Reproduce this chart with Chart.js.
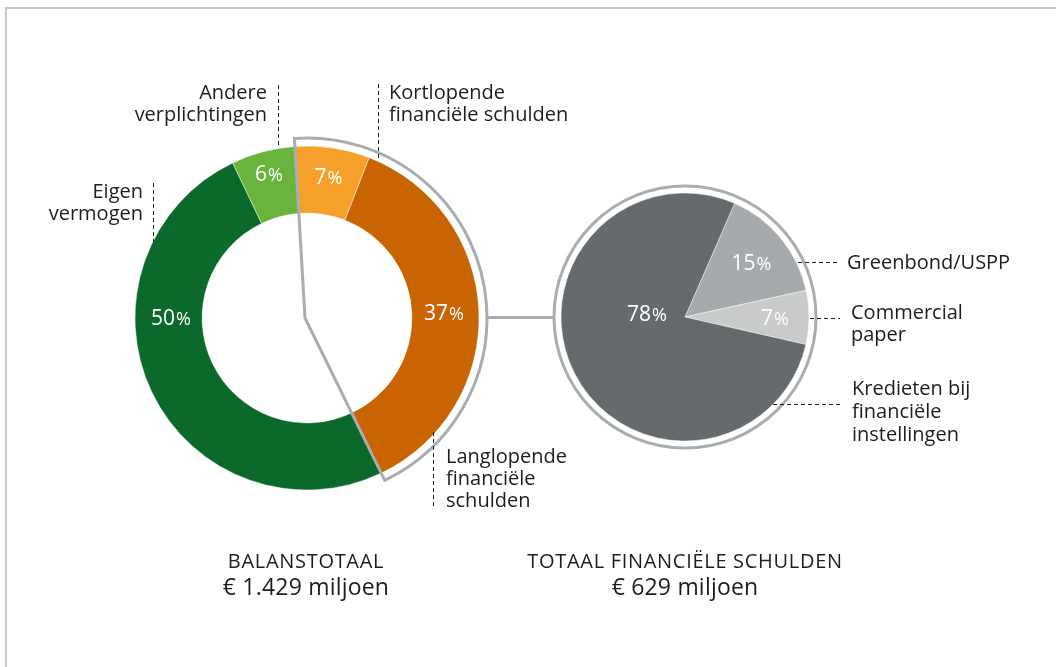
<!DOCTYPE html>
<html><head><meta charset="utf-8">
<script src="https://cdn.jsdelivr.net/npm/chart.js@4/dist/chart.umd.min.js"></script>
<style>
html,body{margin:0;padding:0;background:#fff;}
body{width:1056px;height:667px;position:relative;overflow:hidden;font-family:"Open Sans",sans-serif;color:#1d1d1b;}
#frame{position:absolute;left:5px;top:7px;width:1200px;height:800px;border-top:2px solid #c9c9c9;border-left:2px solid #c9c9c9;}
.box{position:absolute;}
.note{position:absolute;font-size:20px;line-height:22px;white-space:nowrap;}
.title{position:absolute;text-align:center;white-space:nowrap;width:500px;}
.t1{font-size:20px;line-height:24px;letter-spacing:0.7px;}
.t2{font-size:23px;line-height:26px;letter-spacing:0.2px;}
svg{position:absolute;left:0;top:0;}
</style></head>
<body>
<div id="frame"></div>
<div class="box" style="left:107px;top:118px;width:400px;height:400px"><canvas id="donut"></canvas></div>
<div class="box" style="left:535px;top:167px;width:300px;height:300px"><canvas id="pie"></canvas></div>
<svg width="1056" height="667">
  <g stroke="#1d1d1b" stroke-width="1" stroke-dasharray="4 3" fill="none">
    <line x1="278.5" y1="85" x2="278.5" y2="147"/>
    <line x1="378.5" y1="84" x2="378.5" y2="160"/>
    <line x1="153.5" y1="183" x2="153.5" y2="242"/>
    <line x1="433.5" y1="432" x2="433.5" y2="508"/>
    <line x1="798" y1="262.5" x2="840" y2="262.5"/>
    <line x1="810" y1="318.5" x2="840" y2="318.5"/>
    <line x1="773" y1="404.5" x2="843" y2="404.5"/>
  </g>
  <line x1="486" y1="317.5" x2="554" y2="317.5" stroke="#a9adae" stroke-width="3"/>
</svg>
<div id="notes"></div>
<div id="titles"></div>
<script>
// ---- data ----
const donutCategories = ['Kortlopende financiële schulden','Langlopende financiële schulden','Eigen vermogen','Andere verplichtingen'];
const donutValues = [7, 37, 50, 6];
const pieCategories = ['Greenbond/USPP','Commercial paper','Kredieten bij financiële instellingen'];
const pieValues = [15, 7, 78];
const donutTitle = ['BALANSTOTAAL', '€ 1.429 miljoen'];
const pieTitle = ['TOTAAL FINANCIËLE SCHULDEN', '€ 629 miljoen'];
const donutCallouts = [['Kortlopende','financiële schulden'],['Langlopende','financiële','schulden'],['Eigen','vermogen'],['Andere','verplichtingen']];
const pieCallouts = [['Greenbond/USPP'],['Commercial','paper'],['Kredieten bij','financiële','instellingen']];

// ---- styles ----
const donutColors = ['#f4a02a','#c96402','#0b6a2b','#6ab43e'];
const pieColors = ['#a7aaac','#c9cbcb','#656a6c'];
const donutLabelPos = [{r:143},{r:137},{dx:-136, dy:-1},{r:149}];
const pieLabelPos = [{r:86},{r:90},{dx:-38, dy:-4}];
const donutNotePos = [{left:389,top:81},{left:446,top:445},{right:913,top:180,align:'right'},{right:789,top:81,align:'right'}];
const pieNotePos = [{left:847,top:251},{left:851,top:301},{left:852,top:376,lh:23}];

function addNotes(list, pos){
  const host = document.getElementById('notes');
  list.forEach((lines,i)=>{
    const d = document.createElement('div');
    d.className='note';
    const p = pos[i];
    if (p.left!==undefined) d.style.left=p.left+'px';
    if (p.right!==undefined) d.style.right=p.right+'px';
    d.style.top=p.top+'px';
    d.style.textAlign=p.align||'left';
    if (p.lh) d.style.lineHeight=p.lh+'px';
    d.innerHTML = lines.join('<br>');
    host.appendChild(d);
  });
}
addNotes(donutCallouts, donutNotePos);
addNotes(pieCallouts, pieNotePos);

function addTitle(lines, cx){
  const host = document.getElementById('titles');
  const a = document.createElement('div'); a.className='title t1';
  a.style.left=(cx-250)+'px'; a.style.top='549px'; a.textContent=lines[0];
  const b = document.createElement('div'); b.className='title t2';
  b.style.left=(cx-250)+'px'; b.style.top='573px'; b.textContent=lines[1];
  host.appendChild(a); host.appendChild(b);
}
addTitle(donutTitle, 306);
addTitle(pieTitle, 685);

function drawPct(ctx, text, x, y){
  const num = text.replace('%','');
  ctx.save();
  ctx.fillStyle='#ffffff';
  ctx.textBaseline='alphabetic';
  ctx.textAlign='left';
  ctx.font='500 21px "Open Sans"';
  const w1 = ctx.measureText(num).width;
  ctx.font='500 18px "Open Sans"';
  const w2 = ctx.measureText('%').width;
  const x0 = x - (w1+w2+1)/2;
  ctx.font='500 21px "Open Sans"';
  ctx.fillText(num, x0, y+7.5);
  ctx.font='500 18px "Open Sans"';
  ctx.fillText('%', x0+w1+1, y+7.5);
  ctx.restore();
}

const pctLabels = {
  id:'pctLabels',
  afterDatasetsDraw(chart, args, opts){
    const meta = chart.getDatasetMeta(0);
    const values = chart.data.datasets[0].data;
    meta.data.forEach((el,i)=>{
      const mid = (el.startAngle+el.endAngle)/2;
      let x, y;
      const p = opts.pos[i];
      if (p.dx!==undefined){ x = el.x+p.dx; y = el.y+p.dy; }
      else { x = el.x + p.r*Math.cos(mid); y = el.y + p.r*Math.sin(mid); }
      drawPct(chart.ctx, values[i]+'%', x, y);
    });
  }
};

const sectorOutline = {
  id:'sectorOutline',
  afterDatasetsDraw(chart, args, opts){
    const meta = chart.getDatasetMeta(0);
    const a = meta.data[opts.from], b = meta.data[opts.to];
    const R = a.outerRadius + opts.gap;
    const ctx = chart.ctx;
    ctx.save();
    ctx.strokeStyle = opts.color; ctx.lineWidth = opts.width; ctx.lineJoin='miter';
    ctx.beginPath();
    ctx.moveTo(a.x-2, a.y);
    ctx.lineTo(a.x + R*Math.cos(a.startAngle), a.y + R*Math.sin(a.startAngle));
    ctx.arc(a.x, a.y, R, a.startAngle, b.endAngle);
    ctx.closePath();
    ctx.stroke();
    ctx.restore();
  }
};

const ring = {
  id:'ring',
  afterDatasetsDraw(chart, args, opts){
    const el = chart.getDatasetMeta(0).data[0];
    const ctx = chart.ctx;
    ctx.save();
    ctx.strokeStyle = opts.color; ctx.lineWidth = opts.width;
    ctx.beginPath();
    ctx.arc(el.x, el.y, el.outerRadius + opts.gap, 0, Math.PI*2);
    ctx.stroke();
    ctx.restore();
  }
};

new Chart(document.getElementById('donut'), {
  type:'doughnut',
  data:{ labels: donutCategories, datasets:[{ data: donutValues, backgroundColor: donutColors, borderColor:'rgba(255,255,255,0.45)', borderWidth:1, hoverOffset:0 }]},
  options:{
    responsive:true, maintainAspectRatio:false, animation:false,
    radius:172, cutout:'61%', rotation:-4,
    layout:{padding:0},
    events:[],
    plugins:{ legend:{display:false}, tooltip:{enabled:false},
      pctLabels:{ pos: donutLabelPos },
      sectorOutline:{ from:0, to:1, gap:8, color:'#a9adae', width:3 } }
  },
  plugins:[sectorOutline, pctLabels]
});

new Chart(document.getElementById('pie'), {
  type:'pie',
  data:{ labels: pieCategories, datasets:[{ data: pieValues, backgroundColor: pieColors, borderColor:'rgba(255,255,255,0.45)', borderWidth:1, hoverOffset:0 }]},
  options:{
    responsive:true, maintainAspectRatio:false, animation:false,
    radius:124, rotation:23.6,
    layout:{padding:0},
    events:[],
    plugins:{ legend:{display:false}, tooltip:{enabled:false},
      pctLabels:{ pos: pieLabelPos },
      ring:{ gap:7, color:'#a9adae', width:3 } }
  },
  plugins:[ring, pctLabels]
});
</script>
</body></html>
